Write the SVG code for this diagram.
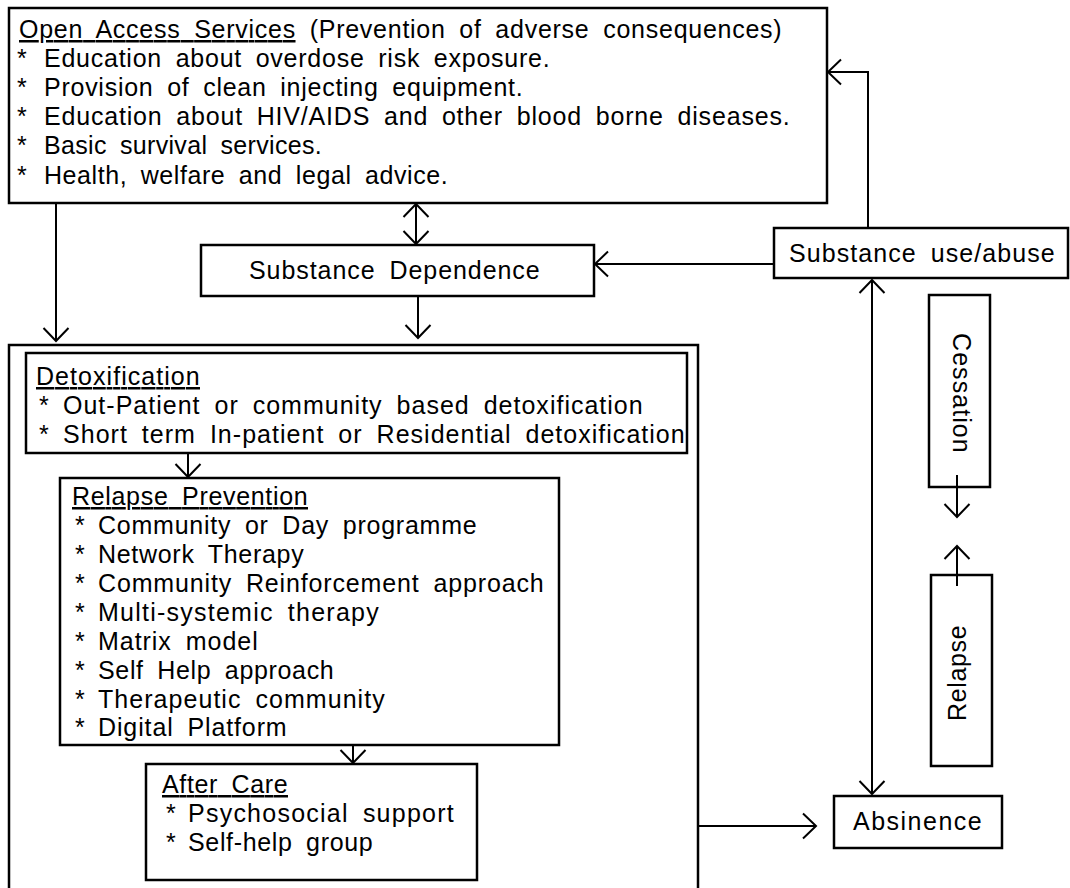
<svg xmlns="http://www.w3.org/2000/svg" width="1070" height="888" viewBox="0 0 1070 888">
<style>
.box{fill:#fff;stroke:#000;stroke-width:2.5}
.t{font-family:"Liberation Sans",Arial,sans-serif;font-size:25px;fill:#000;letter-spacing:0.3px;word-spacing:6px}
.c{fill:none;stroke:#000;stroke-width:2}
.u{text-decoration:underline}
</style>
<defs>
<marker id="arr" markerUnits="userSpaceOnUse" viewBox="-16 -15 18 30" refX="0" refY="0" markerWidth="18" markerHeight="30" orient="auto-start-reverse">
<path d="M-13,-12.5 L0,0 L-13,12.5" fill="none" stroke="#000" stroke-width="2"/>
</marker>
</defs>
<rect width="1070" height="888" fill="#fff"/>
<g id="open-access">
<rect class="box" x="9" y="8" width="818" height="195"/>
<text class="t" x="19" y="38" textLength="763" lengthAdjust="spacing"><tspan class="u">Open Access Services</tspan> (Prevention of adverse consequences)</text>
<text class="t" x="17" y="67">*</text><text class="t" x="44" y="67" textLength="506" lengthAdjust="spacing">Education about overdose risk exposure.</text>
<text class="t" x="17" y="96">*</text><text class="t" x="44" y="96" textLength="479" lengthAdjust="spacing">Provision of clean injecting equipment.</text>
<text class="t" x="17" y="125">*</text><text class="t" x="44" y="125" textLength="746" lengthAdjust="spacing">Education about HIV/AIDS and other blood borne diseases.</text>
<text class="t" x="17" y="154">*</text><text class="t" x="44" y="154" textLength="278" lengthAdjust="spacing">Basic survival services.</text>
<text class="t" x="17" y="184">*</text><text class="t" x="44" y="184" textLength="404" lengthAdjust="spacing">Health, welfare and legal advice.</text>
</g>
<g id="substance-use">
<rect class="box" x="774" y="228" width="294" height="50"/>
<text class="t" x="789" y="262" textLength="266" lengthAdjust="spacing">Substance use/abuse</text>
</g>
<g id="substance-dependence">
<rect class="box" x="201" y="245" width="393" height="51"/>
<text class="t" x="249" y="279" textLength="291" lengthAdjust="spacing">Substance Dependence</text>
</g>
<g id="treatment">
<rect class="box" x="9" y="345" width="689" height="560"/>
</g>
<g id="detoxification">
<rect class="box" x="26" y="353" width="661" height="100"/>
<text class="t" x="36" y="385" textLength="164" lengthAdjust="spacing"><tspan class="u">Detoxification</tspan></text>
<text class="t" x="39" y="414">*</text><text class="t" x="63" y="414" textLength="580" lengthAdjust="spacing">Out-Patient or community based detoxification</text>
<text class="t" x="39" y="443">*</text><text class="t" x="63" y="443" textLength="622" lengthAdjust="spacing">Short term In-patient or Residential detoxification</text>
</g>
<g id="relapse-prevention">
<rect class="box" x="60" y="478" width="499" height="267"/>
<text class="t" x="72" y="505" textLength="236" lengthAdjust="spacing"><tspan class="u">Relapse Prevention</tspan></text>
<text class="t" x="75" y="534">*</text><text class="t" x="98" y="534" textLength="379" lengthAdjust="spacing">Community or Day programme</text>
<text class="t" x="75" y="563">*</text><text class="t" x="98" y="563" textLength="206" lengthAdjust="spacing">Network Therapy</text>
<text class="t" x="75" y="592">*</text><text class="t" x="98" y="592" textLength="446" lengthAdjust="spacing">Community Reinforcement approach</text>
<text class="t" x="75" y="621">*</text><text class="t" x="98" y="621" textLength="281" lengthAdjust="spacing">Multi-systemic therapy</text>
<text class="t" x="75" y="650">*</text><text class="t" x="98" y="650" textLength="160" lengthAdjust="spacing">Matrix model</text>
<text class="t" x="75" y="679">*</text><text class="t" x="98" y="679" textLength="236" lengthAdjust="spacing">Self Help approach</text>
<text class="t" x="75" y="708">*</text><text class="t" x="98" y="708" textLength="287" lengthAdjust="spacing">Therapeutic community</text>
<text class="t" x="75" y="736">*</text><text class="t" x="98" y="736" textLength="189" lengthAdjust="spacing">Digital Platform</text>
</g>
<g id="after-care">
<rect class="box" x="146" y="764" width="331" height="116"/>
<text class="t" x="162" y="793" textLength="126" lengthAdjust="spacing"><tspan class="u">After Care</tspan></text>
<text class="t" x="166" y="822">*</text><text class="t" x="188" y="822" textLength="266" lengthAdjust="spacing">Psychosocial support</text>
<text class="t" x="166" y="851">*</text><text class="t" x="188" y="851" textLength="185" lengthAdjust="spacing">Self-help group</text>
</g>
<g id="cessation">
<rect class="box" x="929" y="295" width="61" height="192"/>
<text class="t" transform="translate(962,393) rotate(90)" x="0" y="0" text-anchor="middle" dominant-baseline="central" textLength="120" lengthAdjust="spacing">Cessation</text>
</g>
<g id="relapse">
<rect class="box" x="931" y="575" width="61" height="191"/>
<text class="t" transform="translate(957,673) rotate(-90)" x="0" y="0" text-anchor="middle" dominant-baseline="central" textLength="96" lengthAdjust="spacing">Relapse</text>
</g>
<g id="absinence">
<rect class="box" x="834" y="796" width="168" height="52"/>
<text class="t" x="853" y="830" textLength="129" lengthAdjust="spacing">Absinence</text>
</g>
<g id="connectors">
<path class="c" d="M868,228 V72 H828" marker-end="url(#arr)"/>
<path class="c" d="M416,204 V244" marker-start="url(#arr)" marker-end="url(#arr)"/>
<path class="c" d="M774,264 H595" marker-end="url(#arr)"/>
<path class="c" d="M56,203 V341" marker-end="url(#arr)"/>
<path class="c" d="M418,296 V338" marker-end="url(#arr)"/>
<path class="c" d="M188,453 V477" marker-end="url(#arr)"/>
<path class="c" d="M353,745 V763" marker-end="url(#arr)"/>
<path class="c" d="M698,826 H816" marker-end="url(#arr)"/>
<path class="c" d="M872,280 V794" marker-start="url(#arr)" marker-end="url(#arr)"/>
<path class="c" d="M957,475 V517" marker-end="url(#arr)"/>
<path class="c" d="M957,586 V546" marker-end="url(#arr)"/>
</g>
</svg>
